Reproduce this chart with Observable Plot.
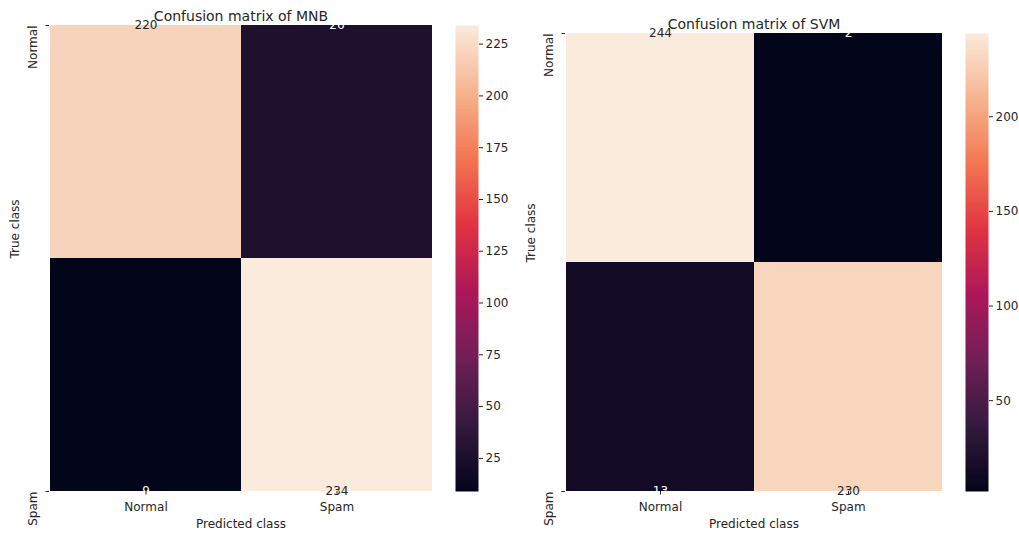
<!DOCTYPE html>
<html>
<head>
<meta charset="utf-8">
<script src="https://cdn.jsdelivr.net/npm/d3@7"></script>
<script src="https://cdn.jsdelivr.net/npm/@observablehq/plot@0.6"></script>
<style>
  html, body { margin: 0; padding: 0; background: #ffffff; }
  #root { position: relative; width: 1019px; height: 533px; overflow: hidden; font-family: "DejaVu Sans", sans-serif; }
  #root > div { position: absolute; top: 0; }
  #root svg { overflow: visible; max-width: none !important; height: auto; }
</style>
</head>
<body>
<div id="root"></div>
<script>
// ---- data ----
const classes = ["Normal", "Spam"];
const mnbValues = [[220, 26], [9, 234]];
const svmValues = [[244, 2], [13, 230]];
const mnbTicks = [25, 50, 75, 100, 125, 150, 175, 200, 225];
const svmTicks = [50, 100, 150, 200];
const mnbTitle = "Confusion matrix of MNB";
const svmTitle = "Confusion matrix of SVM";
const xLabel = "Predicted class";
const yLabel = "True class";

// seaborn "rocket" colormap stops
const rocketStops = ["#03051a", "#35193e", "#701f57", "#ad1759", "#e13342", "#f37651", "#f6b48f", "#faebdd"];
const rocket = d3.piecewise(d3.interpolateRgb, rocketStops);

const textColor = "#262626";
const labelSize = 12;
const titleSize = 14;
const root = document.getElementById("root");

function place(node, left) {
  const wrap = document.createElement("div");
  wrap.style.left = left + "px";
  wrap.appendChild(node);
  root.appendChild(wrap);
}

function panel(values, ticks, title, left, marginTop, marginRight, cbLeft) {
  const data = [];
  values.forEach((row, i) => row.forEach((v, j) => data.push({row: i, trueClass: classes[i], pred: classes[j], value: v})));
  const extent = d3.extent(values.flat());
  const mid = (extent[0] + extent[1]) / 2;
  const colorOpts = {type: "linear", domain: extent, interpolate: rocket};
  const yTicks = classes.map((c, i) => ({label: c, pos: i + 0.5}));

  const heat = Plot.plot({
    width: 460,
    height: 533,
    marginLeft: 49,
    marginRight: marginRight,
    marginTop: marginTop,
    marginBottom: 42,
    style: {fontFamily: "DejaVu Sans, sans-serif", fontSize: labelSize + "px", color: textColor, background: "transparent"},
    x: {type: "band", domain: classes, padding: 0},
    y: {domain: [0.5, 1.5], reverse: true},
    color: colorOpts,
    marks: [
      Plot.barY(data, {x: "pred", y1: d => d.row, y2: d => d.row + 1, fill: "value", clip: true}),
      Plot.text(data, {x: "pred", y: d => d.row + 0.5, text: d => String(d.value),
        fill: d => d.value > mid ? textColor : "white", fontSize: labelSize, lineAnchor: "middle"}),
      Plot.axisX({tickSize: 3.5, tickPadding: 7, label: null, fontSize: labelSize}),
      Plot.axisY({ticks: yTicks.map(d => d.pos), tickSize: 3.5, tickFormat: () => "", label: null}),
      Plot.text(yTicks, {y: "pos", text: "label", frameAnchor: "left", dx: -16, rotate: -90,
        textAnchor: "end", lineAnchor: "middle", fill: textColor, fontSize: labelSize}),
      Plot.text([xLabel], {frameAnchor: "bottom", dy: 33, lineAnchor: "middle", fill: textColor, fontSize: labelSize}),
      Plot.text([yLabel], {frameAnchor: "left", dx: -34, rotate: -90, lineAnchor: "middle", fill: textColor, fontSize: labelSize}),
      Plot.text([title], {frameAnchor: "top", dy: -5, lineAnchor: "bottom", fill: textColor, fontSize: titleSize})
    ]
  });
  place(heat, left);

  const bar = Plot.plot({
    width: 54,
    height: 533,
    marginLeft: 0,
    marginRight: 31,
    marginTop: marginTop,
    marginBottom: 42,
    style: {fontFamily: "DejaVu Sans, sans-serif", fontSize: labelSize + "px", color: textColor, background: "transparent"},
    x: {domain: [0, 1], axis: null},
    y: {domain: extent},
    color: colorOpts,
    marks: [
      Plot.raster({fill: (x, y) => y, x1: 0, x2: 1, y1: extent[0], y2: extent[1], width: 1, height: 300}),
      Plot.axisY({anchor: "right", ticks: ticks, tickSize: 4, tickPadding: 3, label: null, fontSize: labelSize})
    ]
  });
  place(bar, cbLeft);
}

panel(mnbValues, mnbTicks, mnbTitle, 0, 25, 28, 455);
panel(svmValues, svmTicks, svmTitle, 516, 33, 34, 965);
</script>
</body>
</html>
